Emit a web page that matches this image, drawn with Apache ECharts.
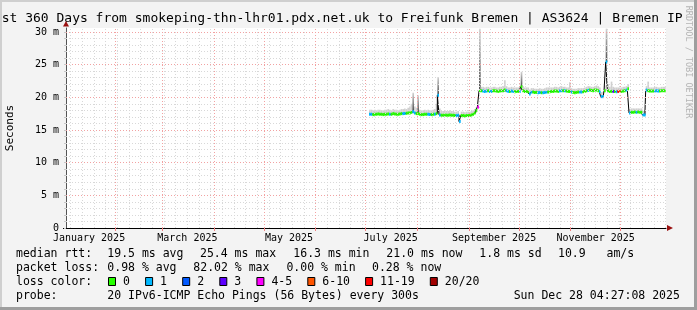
<!DOCTYPE html>
<html><head><meta charset="utf-8">
<script src="https://cdn.jsdelivr.net/npm/echarts@6/dist/echarts.min.js"></script>
<style>html,body{margin:0;padding:0;background:#f3f3f3}#c{width:697px;height:310px}</style>
</head><body><div id="c"></div>
<script>
// ---------- data ----------
const startTime = '2025-01-02T04:27:08Z';
const endTime = '2025-12-28T04:27:08Z';
const firstDay = '2025-07-03T12:00:00Z'; // first daily sample (one value per day)

const medianRtt = [
17.4,17.4,17.35,17.4,17.4,17.45,17.4,17.4,17.35,17.4,
17.4,17.45,17.4,17.4,17.5,17.45,17.4,17.4,17.45,17.5,
17.5,17.5,17.55,17.6,17.6,17.7,17.8,17.6,17.5,17.5,
17.4,17.35,17.35,17.4,17.4,17.4,17.35,17.35,17.4,17.4,
17.5,20.3,17.3,17.25,17.25,17.3,17.25,17.25,17.3,17.25,
17.25,17.2,17.2,17.25,16.3,17.2,17.2,17.15,17.2,17.2,
17.2,17.3,17.4,17.6,18.0,18.5,21.0,21.0,20.95,20.9,
20.95,21.0,20.9,20.9,21.0,21.0,20.95,20.9,20.95,21.0,
21.0,21.1,21.0,20.9,20.9,20.95,20.9,20.85,20.9,20.9,
20.9,21.6,21.0,20.9,20.9,20.85,20.5,20.8,20.8,20.75,
20.75,20.7,20.75,20.7,20.7,20.75,20.8,20.8,20.85,20.9,
20.9,20.95,20.95,20.9,20.95,21.0,21.0,21.0,20.95,20.9,
20.9,20.8,20.75,20.7,20.75,20.8,20.8,20.8,20.85,20.9,
21.0,21.05,21.1,21.05,21.0,21.1,21.1,21.0,20.9,20.1,
20.1,21.0,25.4,21.0,20.9,20.9,20.9,20.9,20.85,20.9,
20.9,20.9,20.95,21.0,21.1,21.3,17.6,17.7,17.7,17.75,
17.7,17.75,17.7,17.7,17.3,17.3,21.1,21.0,20.95,20.95,
20.95,20.95,21.0,20.95,20.95,21.0,21.0,21.0
];
const smokeTop = [
18.1,18.1,18.0,18.1,18.0,18.1,18.1,18.0,18.0,18.1,
18.1,18.2,18.1,18.0,18.2,18.1,18.1,18.0,18.1,18.2,
18.2,18.3,18.2,18.4,18.6,19.0,20.7,18.6,18.4,20.3,
18.1,18.0,18.0,18.1,18.0,18.1,18.0,18.0,18.1,18.2,
19.0,23.1,18.3,17.9,17.9,18.0,17.9,17.9,18.0,17.9,
17.9,17.8,17.8,17.9,17.4,17.8,17.8,17.7,17.8,17.8,
17.8,17.9,18.0,18.2,18.5,18.9,30.5,21.6,21.6,21.5,
21.6,21.6,21.5,21.5,21.6,21.6,21.5,21.5,21.6,21.6,
21.7,22.6,21.7,21.5,21.5,21.6,21.5,21.5,21.5,21.5,
21.6,23.9,21.7,21.5,21.5,21.5,21.2,21.4,21.4,21.3,
21.3,21.3,21.4,21.3,21.3,21.4,21.5,21.5,21.5,21.5,
21.5,21.6,21.6,21.5,21.6,21.7,21.6,21.6,21.5,21.5,
22.3,21.4,21.3,21.3,21.3,21.4,21.4,21.4,21.4,21.5,
21.6,21.7,21.7,21.6,21.6,21.7,21.8,21.7,21.5,20.8,
20.8,21.8,30.5,22.0,21.6,22.4,21.6,21.5,21.5,21.5,
21.5,21.5,21.6,21.6,21.7,22.0,18.2,18.3,18.3,18.3,
18.3,18.3,18.3,18.3,17.9,18.0,21.7,22.4,21.5,21.5,
21.5,21.6,21.6,21.5,21.5,21.6,21.6,21.6
];
// loss bucket per day: 0:"0" 1:"1" 2:"2" 3:"3" 4:"4-5" 5:"6-10" 6:"11-19" 7:"20/20"
const lossIdx = [
1,1,0,0,0,0,0,0,0,0,
0,0,1,0,0,0,0,0,0,0,
1,1,0,0,0,0,1,1,0,0,
0,0,0,0,0,1,1,0,0,1,
0,1,1,0,0,0,0,0,0,0,
0,0,1,1,1,0,0,0,0,0,
0,0,0,0,0,4,0,0,1,1,
1,0,1,1,0,0,0,0,0,0,
0,0,1,1,0,1,1,0,0,0,
1,0,0,0,0,0,1,1,0,0,
0,1,1,0,1,1,1,0,0,0,
0,0,0,0,1,1,0,1,0,0,
0,1,0,0,0,0,1,1,0,0,
0,1,0,0,0,0,0,0,1,1,
1,0,1,0,0,0,3,0,1,6,
5,0,0,0,1,0,1,0,0,0,
1,0,0,0,1,1,1,0,0,0,
0,1,1,1,0,0,0,0
];
const lossLabels = ['0','1','2','3','4-5','6-10','11-19','20/20'];
const lossColors = ['#26ff00','#00b8ff','#0059ff','#5e00ff','#ff00ff','#ff5500','#ff0000','#a10000'];

const yTickValues = [0,5,10,15,20,25,30];
const yTickLabels = ['0','5 m','10 m','15 m','20 m','25 m','30 m'];
const xLabelDates = ['2025-01-16','2025-03-16','2025-05-16','2025-07-16','2025-09-16','2025-11-16'];
const xLabelText = ['January 2025','March 2025','May 2025','July 2025','September 2025','November 2025'];

const titleText = 'st 360 Days from smokeping-thn-lhr01.pdx.net.uk to Freifunk Bremen | AS3624 | Bremen IP';
const yAxisTitle = 'Seconds';
const watermark = 'RRDTOOL / TOBI OETIKER';
const rowRtt  = ['median rtt:','19.5 ms avg','25.4 ms max','16.3 ms min','21.0 ms now','1.8 ms sd','10.9   am/s'];
const rowLoss = ['packet loss:','0.98 % avg','82.02 % max','0.00 % min','0.28 % now'];
const rowColorLabel = 'loss color:';
const rowProbe = ['probe:','20 IPv6-ICMP Echo Pings (56 Bytes) every 300s','Sun Dec 28 04:27:08 2025'];

// ---------- layout ----------
const DAY = 86400000, HALF = DAY/2;
const T0 = Date.parse(startTime), T1 = Date.parse(endTime);
const d0 = Date.parse(firstDay);
const days = medianRtt.map((v,i)=>d0 + i*DAY);
const MONO = '"DejaVu Sans Mono", monospace';

const gridLines = [];
const minorStyle = {color:'#d8d8d8', type:[1,2], width:1};
const majorStyle = {color:'#f2a2a2', type:[1,2], width:1};
for (let v=1; v<=30; v++) if (v%5) gridLines.push({yAxis:v, lineStyle:minorStyle});
for (let t=Date.UTC(2025,0,5); t<=T1; t+=7*DAY) gridLines.push({xAxis:t, lineStyle:minorStyle});
for (let v=5; v<=30; v+=5) gridLines.push({yAxis:v, lineStyle:majorStyle});
const monthStarts = [];
for (let m=1; m<12; m++) monthStarts.push(Date.UTC(2025,m,1));
monthStarts.forEach(t=>gridLines.push({xAxis:t, lineStyle:majorStyle}));

const xLabelVals = xLabelDates.map(s=>Date.parse(s+'T00:00:00Z'));

const smokeGrad = {type:'linear',x:0,y:0,x2:0,y2:1,colorStops:[{offset:0,color:'#d4d4d4'},{offset:1,color:'#4a4a4a'}]};

const graphics = [];
function txt(x,y,text,extra){
  graphics.push(Object.assign({type:'text', x:x, y:y, silent:true,
    style:{text:text, font:'11.5px '+MONO, fill:'#000', textAlign:'left', textVerticalAlign:'middle', verticalAlign:'middle'}}, extra||{}));
}
// frame
graphics.push({type:'rect', shape:{x:0,y:0,width:697,height:2}, style:{fill:'#cfcfcf'}, silent:true});
graphics.push({type:'rect', shape:{x:0,y:0,width:2,height:310}, style:{fill:'#cfcfcf'}, silent:true});
graphics.push({type:'rect', shape:{x:0,y:307,width:697,height:3}, style:{fill:'#9e9e9e'}, silent:true});
graphics.push({type:'rect', shape:{x:694,y:0,width:3,height:310}, style:{fill:'#9e9e9e'}, silent:true});
// title
graphics.push({type:'text', x:1.7, y:19, silent:true, style:{text:titleText, font:'13px '+MONO, fill:'#000', textAlign:'left', textVerticalAlign:'middle', verticalAlign:'middle'}});
// y title
graphics.push({type:'text', x:10, y:128, rotation:Math.PI/2, silent:true, style:{text:yAxisTitle, font:'11px '+MONO, fill:'#000', textAlign:'center', textVerticalAlign:'middle', verticalAlign:'middle'}});
// watermark
graphics.push({type:'text', x:688, y:62, rotation:-Math.PI/2, silent:true, style:{text:watermark, font:'8.5px '+MONO, fill:'#b4b4b4', textAlign:'center', textVerticalAlign:'middle', verticalAlign:'middle'}});
// axis extension + arrows
graphics.push({type:'line', shape:{x1:63,y1:228.5,x2:66,y2:228.5}, style:{stroke:'#000', lineWidth:1}, silent:true});
graphics.push({type:'polygon', shape:{points:[[63,26.5],[69,26.5],[66,21]]}, style:{fill:'#9a1010'}, silent:true});
graphics.push({type:'polygon', shape:{points:[[667,225],[667,231],[673,228]]}, style:{fill:'#9a1010'}, silent:true});
// legend rows
const rowY = [254, 268, 282, 296];
const rttX = [16,107.3,200,293.3,386.3,479.3,558];
rowRtt.forEach((s,i)=>txt(rttX[i],rowY[0],s));
const lossX = [16,107.3,193.3,286.4,372];
rowLoss.forEach((s,i)=>txt(lossX[i],rowY[1],s));
txt(16,rowY[2],rowColorLabel);
let bx = 108.5;
lossLabels.forEach((lab,i)=>{
  graphics.push({type:'rect', shape:{x:bx,y:277.5,width:7,height:8}, style:{fill:lossColors[i], stroke:'#000', lineWidth:1}, silent:true});
  txt(bx+14.5,rowY[2],lab);
  bx += 30.2 + 6.9*lab.length;
});
const probeX = [16,107.3,513.7];
rowProbe.forEach((s,i)=>txt(probeX[i],rowY[3],s));

// ---------- chart ----------
const chart = echarts.init(document.getElementById('c'), null, {renderer:'canvas'});
chart.setOption({
  animation:false,
  backgroundColor:'#f3f3f3',
  grid:{left:66, top:28, width:600, height:200, show:true, backgroundColor:'#ffffff', borderWidth:0},
  xAxis:{type:'value', min:T0, max:T1,
    splitLine:{show:false},
    axisLine:{show:true, onZero:false, lineStyle:{color:'#000', width:1}},
    axisTick:{show:true, customValues:monthStarts, length:3, lineStyle:{color:'#f08080'}},
    axisLabel:{show:true, customValues:xLabelVals, margin:5, fontFamily:MONO, fontSize:10, color:'#000',
      formatter:v=>{const k=xLabelVals.indexOf(v); return k>=0?xLabelText[k]:'';}}
  },
  yAxis:{type:'value', min:0, max:30.6,
    splitLine:{show:false},
    axisLine:{show:true, onZero:false, lineStyle:{color:'#555', width:1}},
    axisTick:{show:true, customValues:Array.from({length:31},(_, k)=>k), length:2, lineStyle:{color:'#c8c8c8'}},
    axisLabel:{show:true, customValues:yTickValues, margin:7, fontFamily:MONO, fontSize:10, color:'#000',
      formatter:v=>{const k=yTickValues.indexOf(v); return k>=0?yTickLabels[k]:'';}}
  },
  series:[
    {type:'line', data:[], silent:true, z:1,
      markLine:{silent:true, symbol:'none', animation:false, label:{show:false}, emphasis:{disabled:true}, data:gridLines}},
    {type:'custom', z:2, silent:true,
      data:days.map((t,i)=>[t, medianRtt[i], smokeTop[i]]),
      renderItem:(params, api)=>{
        const t=api.value(0), lo=api.value(1), hi=api.value(2);
        const p0=api.coord([t-HALF, hi]), p1=api.coord([t+HALF, lo]);
        const tall = hi-lo > 1.5;
        return {type:'rect', shape:{x:p0[0], y:p0[1], width:p1[0]-p0[0], height:p1[1]-p0[1]},
          style:{fill: tall ? smokeGrad : '#d0d0d0'}};
      }},
    {type:'line', z:3, silent:true, step:'middle', symbol:'none',
      data:days.map((t,i)=>[t, medianRtt[i]]), lineStyle:{color:'#000', width:1}},
    {type:'custom', z:4, silent:true,
      data:days.map((t,i)=>[t, medianRtt[i], lossIdx[i]]),
      renderItem:(params, api)=>{
        const t=api.value(0), v=api.value(1), k=api.value(2);
        const p0=api.coord([t-HALF, v]), p1=api.coord([t+HALF, v]);
        return {type:'rect', shape:{x:p0[0], y:p0[1]-1.5, width:p1[0]-p0[0], height:3},
          style:{fill:lossColors[k]}};
      }}
  ],
  graphic:graphics
});
</script></body></html>
